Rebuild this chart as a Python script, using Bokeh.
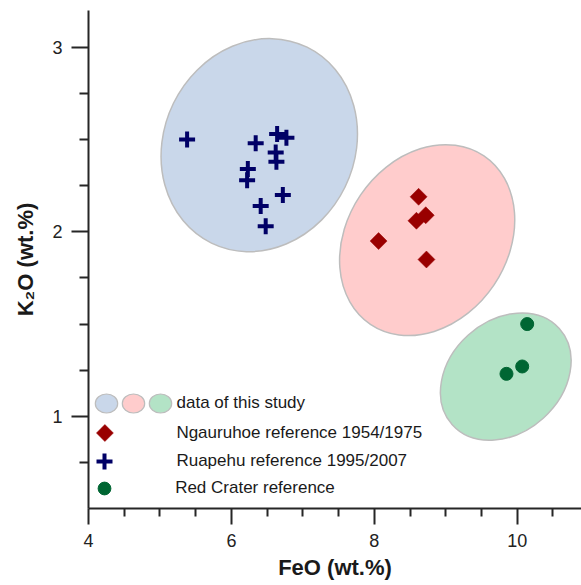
import math
from bokeh.plotting import figure
from bokeh.models import ColumnDataSource, FixedTicker, Legend, LegendItem, Range1d
from bokeh.embed import file_html
from bokeh.resources import INLINE

# ---------------- data ----------------
ruapehu_feo = [5.38, 6.34, 6.64, 6.77, 6.62, 6.63, 6.23, 6.22, 6.72, 6.41, 6.48]
ruapehu_k2o = [2.50, 2.48, 2.53, 2.51, 2.43, 2.38, 2.34, 2.28, 2.20, 2.14, 2.03]

ngauruhoe_feo = [8.62, 8.59, 8.72, 8.06, 8.73]
ngauruhoe_k2o = [2.19, 2.06, 2.09, 1.95, 1.85]

redcrater_feo = [10.14, 10.07, 9.85]
redcrater_k2o = [1.50, 1.27, 1.23]

# "data of this study" fields (centre in data units)
field_names = ["Ruapehu", "Ngauruhoe", "Red Crater"]
field_feo = [6.39, 8.74, 9.84]
field_k2o = [2.47, 1.955, 1.215]

x_ticks = [4, 6, 8, 10]
x_minor = [4.5, 5, 5.5, 6.5, 7, 7.5, 8.5, 9, 9.5, 10.5]
y_ticks = [1, 2, 3]
y_minor = [0.75, 1.25, 1.5, 1.75, 2.25, 2.5, 2.75, 3.25]

legend_labels = ["data of this study", "Ngauruhoe reference 1954/1975",
                 "Ruapehu reference 1995/2007", "Red Crater reference"]

X0, X1 = 4, 10.9
Y0, Y1 = 0.5, 3.2

# ---------------- styles ----------------
FONT = "Liberation Sans"
field_fill = ["#C9D7EA", "#FFCCCC", "#B3E3C6"]
field_line = "#BDBDBD"
field_w = [218, 203, 144]     # screen px (major)
field_h = [191, 161, 112]     # screen px (minor)
field_ang = [64, 56, 42]      # degrees

W, H = 581, 585
L, T, B = 88, 10, 77
FRAME_L, FRAME_B = L, H - B
FRAME_W, FRAME_H = W - L, H - T - B

p = figure(width=W, height=H, output_backend="svg", toolbar_location=None,
           x_range=Range1d(X0, X1), y_range=Range1d(Y0, Y1),
           min_border_left=L, min_border_right=0, min_border_top=T, min_border_bottom=B)
p.outline_line_color = None
p.xgrid.visible = False
p.ygrid.visible = False
p.background_fill_color = "white"
p.border_fill_color = "white"

# fields
for i in range(3):
    src = ColumnDataSource(dict(x=[field_feo[i]], y=[field_k2o[i]]))
    p.ellipse(x="x", y="y", width=field_w[i], height=field_h[i],
              width_units="screen", height_units="screen",
              angle=math.radians(field_ang[i]), source=src,
              fill_color=field_fill[i], line_color=field_line, line_width=1.5)

DIAMOND = dict(marker="square", size=12, angle=math.pi / 4,
               fill_color="#990000", line_color="#990000", line_width=0.5)
r_ng = p.scatter(ngauruhoe_feo, ngauruhoe_k2o, **DIAMOND)
r_ru = p.scatter(ruapehu_feo, ruapehu_k2o, marker="cross", size=16,
                 line_color="#000066", line_width=4)
r_rc = p.scatter(redcrater_feo, redcrater_k2o, marker="circle", size=13,
                 fill_color="#006633", line_color="#006633")

# legend proxies (not drawn in plot)
nan = float("nan")
proxies = []
for i in range(3):
    src = ColumnDataSource(dict(x=[nan], y=[nan]))
    proxies.append(p.ellipse(x="x", y="y", width=22, height=18.7,
                             width_units="screen", height_units="screen",
                             source=src, fill_color=field_fill[i],
                             line_color=field_line, line_width=1.2))
blank = p.scatter([nan], [nan], marker="square", size=1, fill_alpha=0, line_alpha=0)

TEXT_X = 176


def add_key(renderer, label, cx, cy, box):
    left = cx - box / 2
    bottom = cy + box / 2
    stand = max(0, int(round(TEXT_X - (cx + box / 2))))
    leg = Legend(items=[LegendItem(label=label, renderers=[renderer])],
                 location=(left - FRAME_L, FRAME_B - bottom),
                 glyph_width=int(round(box)), glyph_height=int(round(box)),
                 padding=0, margin=0, spacing=0, label_standoff=stand,
                 label_height=10, label_width=0,
                 background_fill_alpha=0, border_line_alpha=0,
                 label_text_font=FONT, label_text_font_size="17px",
                 label_text_color="#1a1a1a")
    p.add_layout(leg, "center")


def screen_to_data(cx, cy):
    return (X0 + (cx - FRAME_L) / FRAME_W * (X1 - X0),
            Y0 + (FRAME_B - cy) / FRAME_H * (Y1 - Y0))


add_key(proxies[0], "", 106.0, 403.0, 27.5)
add_key(proxies[1], "", 132.8, 403.0, 27.5)
add_key(proxies[2], legend_labels[0], 159.3, 403.0, 27.5)
add_key(blank, legend_labels[1], 104.4, 432.5, 30)
kx, ky = screen_to_data(104.4, 432.5)
p.scatter([kx], [ky], **DIAMOND)
add_key(r_ru, legend_labels[2], 104.4, 460.5, 40)
add_key(r_rc, legend_labels[3], 104.4, 487.5, 32.5)

# axes
xa = p.xaxis[0]
ya = p.yaxis[0]
xa.ticker = FixedTicker(ticks=x_ticks, minor_ticks=x_minor)
ya.ticker = FixedTicker(ticks=y_ticks, minor_ticks=y_minor)
for ax in (xa, ya):
    ax.axis_line_color = "#262626"
    ax.axis_line_width = 2
    ax.major_tick_line_color = "#262626"
    ax.major_tick_line_width = 2
    ax.minor_tick_line_color = "#262626"
    ax.minor_tick_line_width = 2
    ax.major_tick_in = 0
    ax.minor_tick_in = 0
    ax.major_label_text_font = FONT
    ax.major_label_text_font_size = "18px"
    ax.major_label_text_color = "#222222"
    ax.axis_label_text_font = FONT
    ax.axis_label_text_font_size = "22px"
    ax.axis_label_text_font_style = "bold"
    ax.axis_label_text_color = "#1a1a1a"

xa.major_tick_out = 16
xa.minor_tick_out = 8
xa.major_label_standoff = 9
xa.axis_label = "FeO (wt.%)"
xa.axis_label_standoff = 5

ya.major_tick_out = 17
ya.minor_tick_out = 9
ya.major_label_standoff = 9
ya.axis_label = "K\u2082O (wt.%)"
ya.axis_label_standoff = 11

open("out.html", "w").write(file_html(p, INLINE))
